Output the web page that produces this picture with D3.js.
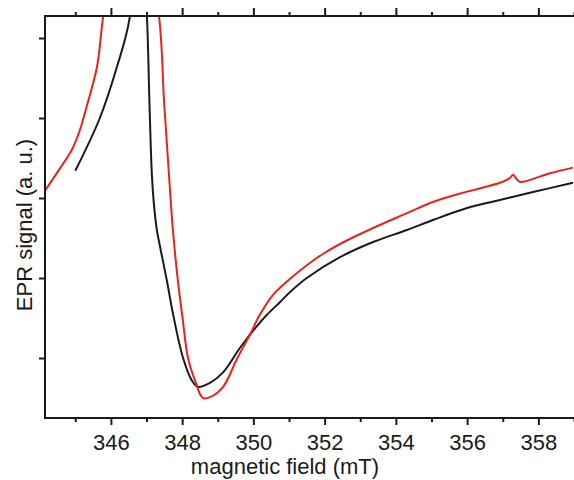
<!DOCTYPE html>
<html>
<head>
<meta charset="utf-8">
<script src="https://cdn.jsdelivr.net/npm/d3@7"></script>
<style>
  html, body { margin: 0; padding: 0; background: #fff; }
  svg { display: block; }
  text { font-family: "Liberation Sans", Arial, Helvetica, sans-serif; fill: #1a1a1a; }
</style>
</head>
<body>
<svg id="chart" width="574" height="480"></svg>
<script>
// ---- data (magnetic field in mT, EPR signal in arbitrary units) ----
const blackField = [345.0, 345.69, 346.17, 346.53, 346.76, 347.01, 347.08, 347.15, 347.21, 347.29, 347.38, 347.57, 347.74, 348.02, 348.27, 348.44, 348.78, 349.15, 349.62, 349.99, 350.38, 350.75, 351.03, 351.50, 352.43, 353.36, 354.31, 355.04, 356.0, 356.92, 357.85, 358.97];
const blackSignal = [0.34, 1.0, 1.64, 2.26, 4.0, 2.28, 1.225, 0.29, -0.09, -0.40, -0.61, -1.03, -1.44, -1.99, -2.28, -2.36, -2.31, -2.18, -1.875, -1.66, -1.46, -1.30, -1.175, -1.0, -0.74, -0.55, -0.40, -0.275, -0.125, -0.025, 0.075, 0.19];

const redField = [344.15, 344.51, 344.90, 345.13, 345.33, 345.61, 345.78, 346.53, 347.35, 347.49, 347.63, 347.74, 347.88, 348.02, 348.16, 348.36, 348.58, 348.78, 349.15, 349.54, 349.90, 350.18, 350.55, 351.03, 351.50, 351.95, 352.43, 353.36, 354.31, 355.04, 356.0, 356.92, 357.2, 357.29, 357.40, 357.49, 358.33, 358.97];
const redSignal = [0.09, 0.33, 0.60, 0.85, 1.16, 1.64, 2.26, 4.5, 2.28, 1.225, 0.29, -0.40, -1.03, -1.53, -1.99, -2.28, -2.50, -2.49, -2.36, -2.01, -1.71, -1.46, -1.21, -1.01, -0.84, -0.70, -0.575, -0.375, -0.19, -0.05, 0.08, 0.19, 0.25, 0.29, 0.23, 0.20, 0.31, 0.38];

const xMajorTicks = [346, 348, 350, 352, 354, 356, 358];
const xMinorTicks = [345, 347, 349, 351, 353, 355, 357, 359];
const yTicks = [-2, -1, 0, 1, 2];
const xTitle = "magnetic field (mT)";
const yTitle = "EPR signal (a. u.)";

// ---- layout ----
const L = 45, R = 574, T = 16, B = 418;
const svg = d3.select("#chart");

const x = d3.scaleLinear().domain([344.15, 359.0]).range([L, R]);
const y = d3.scaleLinear().domain([-2.75, 2.275]).range([B, T]);

svg.append("defs").append("clipPath").attr("id", "clip")
  .append("rect").attr("x", L).attr("y", T).attr("width", R - L).attr("height", B - T);

const line = d3.line().x(d => x(d[0])).y(d => y(d[1])).curve(d3.curveCatmullRom.alpha(0.5));
const blackData = blackField.map((f, i) => [f, blackSignal[i]]);
const redData = redField.map((f, i) => [f, redSignal[i]]);

const plot = svg.append("g").attr("clip-path", "url(#clip)");
plot.append("path").datum(blackData).attr("d", line)
  .attr("fill", "none").attr("stroke", "#1a1a1a").attr("stroke-width", 2);
plot.append("path").datum(redData).attr("d", line)
  .attr("fill", "none").attr("stroke", "#e8231b").attr("stroke-width", 2);

// bottom axis
const axBottom = svg.append("g").attr("transform", `translate(0,${B})`)
  .call(d3.axisBottom(x).tickValues(xMajorTicks).tickSize(7).tickPadding(9).tickFormat(d3.format("d")));
const axBottomMinor = svg.append("g").attr("class", "minor").attr("transform", `translate(0,${B})`)
  .call(d3.axisBottom(x).tickValues(xMinorTicks).tickSize(4).tickFormat(""));
// top axis
const axTop = svg.append("g").attr("transform", `translate(0,${T})`)
  .call(d3.axisTop(x).tickValues(xMajorTicks).tickSize(8).tickFormat(""));
const axTopMinor = svg.append("g").attr("class", "minor").attr("transform", `translate(0,${T})`)
  .call(d3.axisTop(x).tickValues(xMinorTicks).tickSize(4).tickFormat(""));
// left axis
const axLeft = svg.append("g").attr("transform", `translate(${L},0)`)
  .call(d3.axisLeft(y).tickValues(yTicks).tickSize(6).tickFormat(""));

svg.selectAll(".minor .domain").remove();
svg.selectAll(".domain").attr("stroke", "#1a1a1a").attr("stroke-width", 2);
svg.selectAll(".tick line").attr("stroke", "#1a1a1a").attr("stroke-width", 2);
axBottom.select(".domain").attr("d", `M${L - 1},0H${R}`);
axTop.select(".domain").attr("d", `M${L - 1},0H${R}`);
axLeft.select(".domain").attr("d", `M0,${T - 1}V${B + 1}`);
axBottom.selectAll(".tick text").attr("font-size", 22).attr("fill", "#1a1a1a")
  .attr("font-family", "'Liberation Sans', Arial, sans-serif");

// titles
svg.append("text").attr("x", 285).attr("y", 474).attr("text-anchor", "middle")
  .attr("font-size", 22).text(xTitle);
svg.append("text").attr("transform", "translate(32,225) rotate(-90)")
  .attr("text-anchor", "middle").attr("font-size", 22).text(yTitle);
</script>
</body>
</html>
